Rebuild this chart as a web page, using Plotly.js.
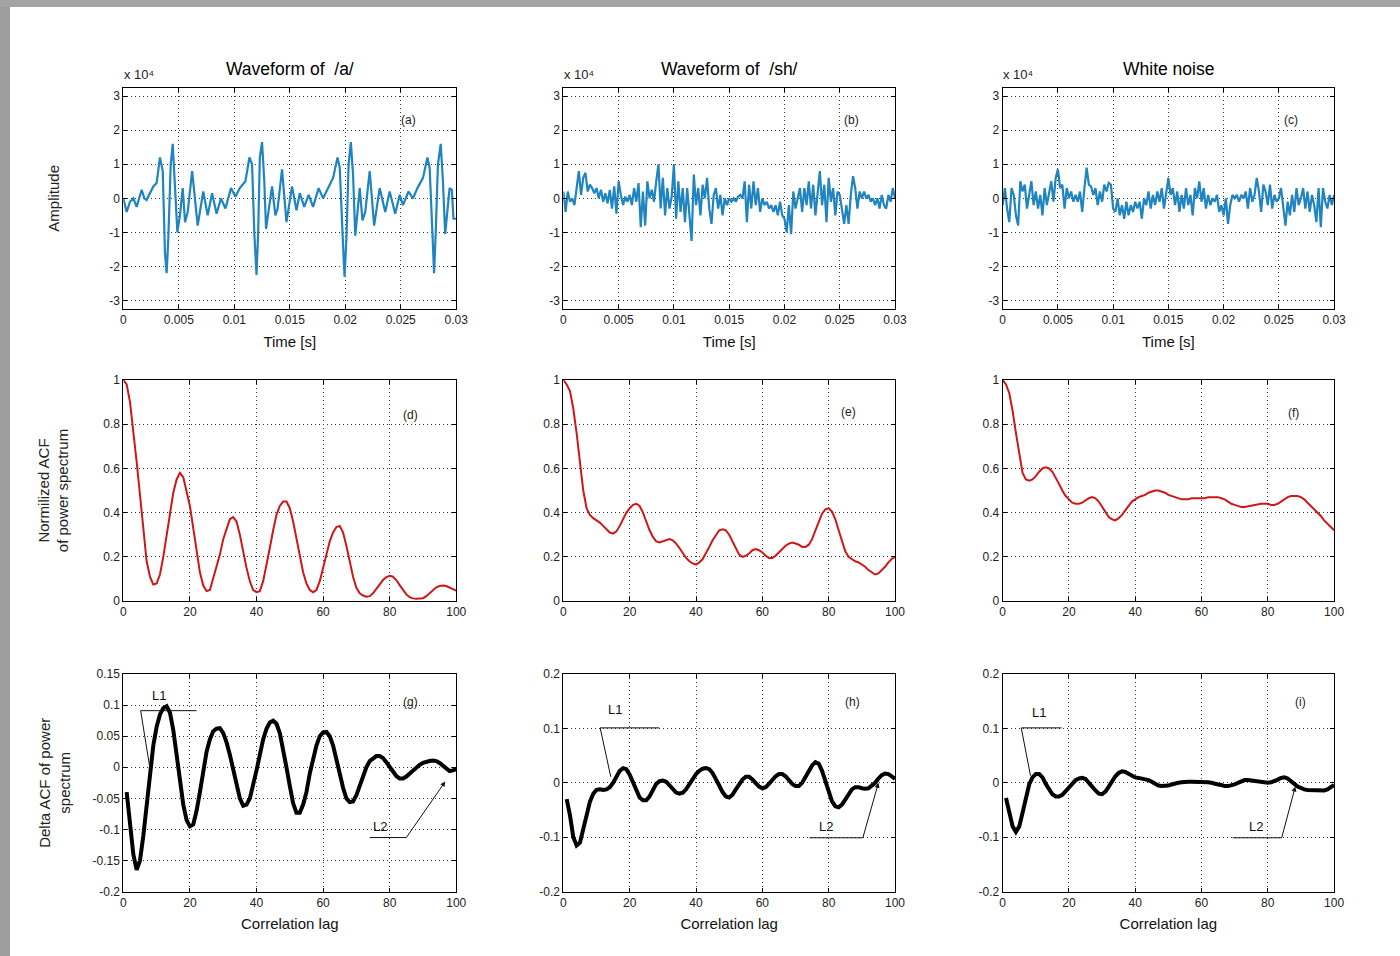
<!DOCTYPE html>
<html><head><meta charset="utf-8">
<script src="https://cdn.plot.ly/plotly-3.0.1.min.js"></script>
<style>html,body{margin:0;padding:0;background:#fff;}#chart{width:1400px;height:956px;}</style>
</head><body><div id="chart"></div>
<script>
// ---------------- DATA ----------------
// Panel (a): waveform of /a/ (time in ms, amplitude in units of 10^4)
const timeA_ms = [0,0.3,0.6,0.9,1.2,1.65,1.9,2.1,2.7,3.0,3.3,3.55,3.75,3.9,4.05,4.27,4.45,4.65,4.87,5.1,5.35,5.56,5.8,6.2,6.7,7.2,7.6,8.0,8.4,8.8,9.2,9.7,10.1,10.5,11.0,11.36,11.6,11.8,12.0,12.15,12.3,12.5,12.7,12.86,13.1,13.4,13.7,13.9,14.3,14.7,15.2,15.6,15.9,16.3,16.7,17.1,17.6,18.0,18.6,18.9,19.3,19.5,19.75,19.93,20.1,20.3,20.5,20.7,20.9,21.1,21.3,21.55,21.8,22.2,22.6,23.1,23.6,24.0,24.5,24.9,25.2,25.7,26.1,26.5,27.0,27.4,27.6,27.85,28.0,28.15,28.35,28.6,28.8,29.0,29.2,29.4,29.6,29.75,30.0];
const ampA_e4 = [0.0,-0.4,-0.1,0.0,-0.25,0.25,0.0,-0.05,0.35,0.45,1.2,0.8,-1.6,-2.2,-1.2,1.0,1.6,0.4,-1.0,-0.5,0.3,-0.7,-0.4,0.8,-0.8,0.2,-0.5,0.15,-0.45,0.0,-0.3,0.3,0.05,0.3,0.5,1.2,1.0,-1.0,-2.25,-1.0,1.2,1.65,0.5,-0.9,-0.3,0.35,-0.5,-0.3,0.85,-0.7,0.35,-0.35,0.15,-0.25,0.1,-0.25,0.3,0.0,0.4,0.6,1.2,0.9,-1.0,-2.3,-1.2,1.0,1.65,0.7,-1.1,-0.3,0.3,-0.65,-0.4,0.8,-0.8,0.3,-0.4,0.2,-0.45,0.1,-0.2,0.2,0.0,0.3,0.6,1.2,0.9,-1.0,-2.2,-1.0,1.0,1.6,0.5,-1.05,-0.3,0.3,0.25,-0.6,-0.6];

// Panels (b) and (c): sampled every 0.2 ms from 0 to 30 ms (units of 10^4)
const sampleStep_ms = 0.2;
const ampSh_e4 = [0.2,-0.4,0.2,-0.1,0.0,-0.2,0.3,0.8,0.1,0.6,
0.75,0.2,0.4,0.3,0.15,0.3,0.0,0.25,-0.1,0.15,
-0.15,0.25,-0.3,0.35,-0.45,0.5,0.1,-0.2,0.05,-0.1,
0.1,-0.2,0.3,-0.1,0.45,-0.85,0.2,-0.8,0.5,0.0,
0.25,-0.1,0.5,1.0,-0.3,0.6,-0.5,0.3,-0.3,0.05,
1.0,-0.6,0.5,-0.4,0.3,-0.7,0.3,-0.5,-1.25,0.7,
-0.2,0.3,-0.5,0.4,0.0,0.6,-0.3,-0.75,0.1,0.3,
-0.3,0.1,-0.5,0.0,-0.2,0.0,-0.1,0.0,-0.1,0.05,
0.1,0.0,0.5,-0.7,0.4,-0.3,0.5,-0.2,0.3,-0.4,
0.0,-0.2,-0.1,-0.3,-0.2,-0.4,-0.2,-0.5,-0.1,-0.5,
-0.6,-1.0,-0.2,-1.05,0.2,-0.3,0.0,0.3,-0.4,0.3,
-0.2,0.5,-0.3,0.4,-0.5,0.2,0.8,-0.2,0.4,-0.7,
0.6,-0.1,0.3,-0.5,0.2,0.1,-0.3,-0.75,-0.2,-0.75,
0.1,0.65,0.3,-0.3,0.2,0.0,0.2,0.0,0.1,-0.1,
0.0,-0.2,0.0,-0.3,0.1,-0.2,-0.3,0.1,-0.1,0.3,
0.0];
const ampNoise_e4 = [-0.2,0.3,-0.3,-0.7,0.3,0.1,-0.5,-0.8,0.5,0.2,
0.4,-0.3,0.1,0.5,-0.2,0.2,-0.3,0.1,-0.5,0.3,
-0.2,0.2,0.5,-0.1,0.6,0.85,0.3,0.4,-0.3,0.3,
0.0,0.2,-0.1,0.1,-0.1,0.2,-0.4,0.3,0.9,0.4,
0.35,0.1,0.3,-0.2,0.2,-0.1,0.4,0.2,0.45,0.4,
-0.3,-0.4,0.0,-0.5,-0.2,-0.6,-0.1,-0.5,-0.2,-0.4,
-0.1,-0.3,-0.1,-0.6,0.0,-0.2,0.2,-0.3,0.1,-0.2,
0.2,-0.1,0.3,-0.3,0.2,0.6,0.1,0.3,-0.2,0.2,
-0.4,0.1,-0.3,0.3,-0.2,0.1,-0.5,0.3,0.0,0.5,
-0.1,0.3,-0.3,0.1,-0.2,0.0,-0.1,0.1,-0.4,-0.2,
-0.5,0.0,-0.75,-0.2,0.1,0.0,0.1,-0.1,0.1,0.0,
0.2,-0.3,0.3,-0.1,0.1,0.6,0.2,-0.4,0.4,0.2,
-0.2,0.4,-0.3,0.1,-0.1,0.0,0.3,-0.3,-0.8,-0.1,
-0.5,0.1,-0.4,0.3,-0.2,0.0,0.3,-0.3,0.2,-0.4,
0.1,-0.2,-0.7,0.3,-0.85,0.3,-0.1,-0.3,0.1,-0.2,
0.1];

// Panels (d)-(f): normalized ACF of power spectrum, lags 0..100
const acfA = [1.0,0.98,0.9,0.77,0.63,0.48,0.32,0.18,0.11,0.075,
0.08,0.12,0.2,0.3,0.4,0.49,0.55,0.58,0.56,0.5,
0.43,0.33,0.22,0.13,0.07,0.045,0.05,0.1,0.15,0.21,
0.28,0.33,0.37,0.38,0.36,0.3,0.22,0.15,0.09,0.05,
0.04,0.045,0.09,0.16,0.24,0.32,0.39,0.43,0.45,0.45,
0.42,0.36,0.28,0.2,0.13,0.08,0.05,0.04,0.05,0.09,
0.15,0.21,0.27,0.31,0.335,0.34,0.31,0.25,0.18,0.11,
0.06,0.035,0.025,0.02,0.022,0.035,0.055,0.075,0.095,0.108,
0.114,0.11,0.095,0.072,0.05,0.03,0.018,0.012,0.01,0.01,
0.013,0.022,0.035,0.05,0.062,0.068,0.07,0.068,0.062,0.055,
0.047];
const acfSh = [1.0,0.98,0.95,0.87,0.76,0.62,0.5,0.42,0.39,0.375,
0.365,0.355,0.34,0.325,0.31,0.305,0.315,0.34,0.37,0.4,
0.42,0.435,0.44,0.43,0.4,0.36,0.32,0.29,0.27,0.265,
0.27,0.275,0.28,0.275,0.26,0.24,0.215,0.195,0.18,0.17,
0.165,0.175,0.19,0.215,0.245,0.275,0.3,0.32,0.325,0.32,
0.3,0.27,0.235,0.21,0.2,0.205,0.215,0.23,0.235,0.23,
0.22,0.205,0.195,0.195,0.205,0.22,0.235,0.25,0.26,0.265,
0.26,0.255,0.245,0.245,0.255,0.28,0.32,0.36,0.395,0.415,
0.42,0.405,0.37,0.32,0.27,0.225,0.2,0.19,0.18,0.175,
0.165,0.155,0.14,0.13,0.12,0.125,0.14,0.155,0.175,0.19,
0.2];
const acfNoise = [1.0,0.98,0.94,0.86,0.76,0.66,0.58,0.55,0.545,0.55,
0.565,0.585,0.6,0.605,0.6,0.585,0.56,0.53,0.5,0.475,
0.46,0.445,0.44,0.44,0.445,0.455,0.465,0.47,0.465,0.45,
0.425,0.4,0.38,0.37,0.365,0.375,0.39,0.41,0.43,0.45,
0.46,0.47,0.475,0.48,0.49,0.495,0.5,0.5,0.495,0.49,
0.48,0.475,0.47,0.465,0.46,0.46,0.46,0.465,0.465,0.465,
0.465,0.465,0.47,0.47,0.47,0.47,0.465,0.46,0.45,0.44,
0.435,0.43,0.425,0.425,0.428,0.43,0.435,0.435,0.44,0.44,
0.44,0.435,0.435,0.44,0.45,0.46,0.47,0.475,0.475,0.475,
0.47,0.46,0.445,0.43,0.415,0.4,0.385,0.365,0.35,0.335,
0.32];

// Panels (g)-(i): delta ACF of power spectrum, lags 1..100
const dAcfA = [-0.04,-0.09,-0.14,-0.165,-0.15,-0.11,-0.06,-0.01,0.035,0.065,
0.085,0.095,0.098,0.088,0.06,0.02,-0.025,-0.06,-0.085,-0.095,
-0.092,-0.07,-0.04,-0.005,0.025,0.045,0.058,0.062,0.063,0.055,
0.04,0.02,-0.005,-0.03,-0.05,-0.062,-0.06,-0.05,-0.03,-0.005,
0.02,0.045,0.062,0.072,0.075,0.07,0.055,0.03,0.0,-0.03,
-0.058,-0.073,-0.073,-0.06,-0.04,-0.01,0.015,0.035,0.05,0.056,
0.057,0.05,0.035,0.015,-0.01,-0.033,-0.05,-0.056,-0.055,-0.045,
-0.03,-0.015,0.0,0.01,0.015,0.018,0.018,0.015,0.008,0.0,
-0.008,-0.014,-0.018,-0.018,-0.015,-0.01,-0.005,0.0,0.004,0.007,
0.009,0.01,0.011,0.01,0.007,0.002,-0.003,-0.006,-0.005,-0.003];
const dAcfSh = [-0.03,-0.06,-0.1,-0.115,-0.11,-0.085,-0.055,-0.035,-0.02,-0.013,
-0.012,-0.013,-0.012,-0.008,0.0,0.012,0.022,0.027,0.025,0.015,
0.0,-0.015,-0.027,-0.032,-0.032,-0.025,-0.012,-0.002,0.003,0.004,
0.002,-0.004,-0.012,-0.018,-0.02,-0.018,-0.012,-0.003,0.008,0.016,
0.022,0.026,0.027,0.025,0.018,0.008,-0.005,-0.017,-0.025,-0.027,
-0.022,-0.012,-0.002,0.006,0.011,0.011,0.006,-0.001,-0.007,-0.01,
-0.008,-0.002,0.006,0.012,0.016,0.016,0.012,0.005,-0.002,-0.006,
-0.006,0.0,0.01,0.022,0.032,0.038,0.035,0.022,0.002,-0.018,
-0.034,-0.043,-0.045,-0.04,-0.03,-0.02,-0.012,-0.008,-0.008,-0.01,
-0.011,-0.01,-0.006,0.0,0.008,0.014,0.017,0.016,0.012,0.007];
const dAcfNoise = [-0.028,-0.055,-0.08,-0.09,-0.08,-0.055,-0.025,-0.003,0.01,0.016,
0.016,0.01,-0.002,-0.013,-0.021,-0.025,-0.025,-0.022,-0.015,-0.007,
0.0,0.005,0.008,0.009,0.007,0.001,-0.007,-0.014,-0.02,-0.021,
-0.016,-0.007,0.003,0.012,0.018,0.021,0.02,0.016,0.012,0.01,
0.009,0.008,0.007,0.005,0.002,-0.002,-0.005,-0.006,-0.006,-0.005,
-0.003,-0.001,0.0,0.001,0.002,0.002,0.002,0.002,0.002,0.002,
0.002,0.001,0.0,-0.002,-0.003,-0.004,-0.006,-0.006,-0.005,-0.003,
0.0,0.003,0.005,0.005,0.004,0.003,0.002,0.001,0.0,0.0,
0.001,0.003,0.006,0.009,0.01,0.008,0.004,-0.002,-0.007,-0.01,
-0.012,-0.013,-0.013,-0.013,-0.013,-0.014,-0.014,-0.012,-0.008,-0.004];

// Text
const panelTitles = ['Waveform of  /a/', 'Waveform of  /sh/', 'White noise'];
const panelLetters = ['(a)','(b)','(c)','(d)','(e)','(f)','(g)','(h)','(i)'];
const rowYTitles = ['Amplitude', 'Normilized ACF<br>of power spectrum', 'Delta ACF of power<br>spectrum'];
const exponentLabel = 'x 10\u2074';

// Ticks
const timeTicks = [0,0.005,0.01,0.015,0.02,0.025,0.03];
const ampTicks = [-3,-2,-1,0,1,2,3];
const lagTicks = [0,20,40,60,80,100];
const acfTicks = [0,0.2,0.4,0.6,0.8,1];
const dTicksA = [-0.2,-0.15,-0.1,-0.05,0,0.05,0.1,0.15];
const dTicksOther = [-0.2,-0.1,0,0.1,0.2];

// ---------------- BUILD ----------------
const FONT = 'Liberation Sans, Arial, Helvetica, DejaVu Sans, sans-serif';
const BLUE = '#1f84c0', RED = '#cc1818', BLACK = '#000';
const toSec = a => a.map(v => v / 1000);
const sampleTimes = n => Array.from({length: n}, (_, i) => +(i * sampleStep_ms / 1000).toFixed(5));
const lags0 = Array.from({length: acfA.length}, (_, i) => i);
const lags1 = Array.from({length: dAcfA.length}, (_, i) => i + 1);

const series = [
  {x: toSec(timeA_ms), y: ampA_e4, c: BLUE, w: 2.2},
  {x: sampleTimes(ampSh_e4.length), y: ampSh_e4, c: BLUE, w: 2.2},
  {x: sampleTimes(ampNoise_e4.length), y: ampNoise_e4, c: BLUE, w: 2.2},
  {x: lags0, y: acfA, c: RED, w: 2},
  {x: lags0, y: acfSh, c: RED, w: 2},
  {x: lags0, y: acfNoise, c: RED, w: 2},
  {x: lags1, y: dAcfA, c: BLACK, w: 4},
  {x: lags1, y: dAcfSh, c: BLACK, w: 4},
  {x: lags1, y: dAcfNoise, c: BLACK, w: 4}
];

const colX = [[0.0881,0.3259],[0.4024,0.6393],[0.7162,0.9529]];
const rowY = [[0.6768,0.9083],[0.3713,0.6025],[0.0673,0.2950]];
const yTitleStandoff = [46, 30, 18];

const traces = series.map((s, i) => ({
  x: s.x, y: s.y, type: 'scatter', mode: 'lines',
  line: {color: s.c, width: s.w}, xaxis: 'x' + (i + 1), yaxis: 'y' + (i + 1),
  hoverinfo: 'skip', showlegend: false
}));

const baseAxis = {
  showline: true, linecolor: '#000', linewidth: 1, mirror: 'ticks',
  ticks: 'inside', ticklen: 4, tickcolor: '#000', tickwidth: 1,
  showgrid: true, gridcolor: '#333', griddash: '1px,3px', gridwidth: 1,
  zeroline: false, tickmode: 'array',
  tickfont: {family: FONT, size: 12, color: '#222'}, fixedrange: true
};
const tk = v => ({tickvals: v, ticktext: v.map(String)});

const layout = {
  width: 1400, height: 956, margin: {l: 0, r: 0, t: 0, b: 0},
  paper_bgcolor: '#fff', plot_bgcolor: '#fff', showlegend: false,
  font: {family: FONT, color: '#111'},
  annotations: [], shapes: []
};

for (let i = 0; i < 9; i++) {
  const r = Math.floor(i / 3), c = i % 3, k = i + 1;
  const xa = Object.assign({}, baseAxis, {domain: colX[c], anchor: 'y' + k});
  const ya = Object.assign({}, baseAxis, {domain: rowY[r], anchor: 'x' + k});
  if (r === 0) {
    Object.assign(xa, {range: [0, 0.03]}, tk(timeTicks));
    Object.assign(ya, {range: [-3.25, 3.25]}, tk(ampTicks));
    xa.title = {text: 'Time [s]', font: {size: 15, family: FONT, color: '#111'}, standoff: 10};
  } else if (r === 1) {
    Object.assign(xa, {range: [0, 100]}, tk(lagTicks));
    Object.assign(ya, {range: [0, 1]}, tk(acfTicks));
  } else {
    Object.assign(xa, {range: [0, 100]}, tk(lagTicks));
    if (c === 0) Object.assign(ya, {range: [-0.2, 0.15]}, tk(dTicksA));
    else Object.assign(ya, {range: [-0.2, 0.2]}, tk(dTicksOther));
    xa.title = {text: 'Correlation lag', font: {size: 15, family: FONT, color: '#111'}, standoff: 9};
  }
  if (c === 0) {
    ya.title = {text: rowYTitles[r], font: {size: 15, family: FONT, color: '#222'}, standoff: yTitleStandoff[r]};
  }
  layout['xaxis' + (k === 1 ? '' : k)] = xa;
  layout['yaxis' + (k === 1 ? '' : k)] = ya;
}

// panel titles, exponent labels
const letterPos = [[0.858,0.854],[0.87,0.854],[0.87,0.854],[0.864,0.84],[0.861,0.855],[0.879,0.85],[0.864,0.87],[0.873,0.87],[0.90,0.87]];
for (let c = 0; c < 3; c++) {
  const k = c + 1;
  layout.annotations.push({text: panelTitles[c], xref: 'x' + k + ' domain', yref: 'y' + k + ' domain',
    x: 0.5, y: 1.085, xanchor: 'center', yanchor: 'middle', showarrow: false,
    font: {family: FONT, size: 17.5, color: '#000'}});
  layout.annotations.push({text: exponentLabel, xref: 'x' + k + ' domain', yref: 'y' + k + ' domain',
    x: -0.005, y: 1.06, xanchor: 'left', yanchor: 'middle', showarrow: false,
    font: {family: FONT, size: 13, color: '#222'}});
}
for (let i = 0; i < 9; i++) {
  const k = i + 1;
  layout.annotations.push({text: panelLetters[i], xref: 'x' + k + ' domain', yref: 'y' + k + ' domain',
    x: letterPos[i][0], y: letterPos[i][1], xanchor: 'center', yanchor: 'middle', showarrow: false,
    font: {family: FONT, size: 12, color: '#222'}});
}

// L1 / L2 callouts (data coordinates of each delta-ACF panel)
// l2Pad: non-breaking spaces that widen the L2 label box so its right edge meets the bar end
const callouts = [
  {k: 7, l1Text: [10.8, 0.116], l1Bar: [5.2, 22, 0.091], l1Tip: [8.3, -0.012],
         l2Bar: [74, 85, -0.113], l2Tip: [96.7, -0.023], l2Pad: 4},
  {k: 8, l1Text: [15.6, 0.134], l1Bar: [11.1, 28.9, 0.101], l1Tip: [14.3, 0.011],
         l2Bar: [74.2, 90.3, -0.101], l2Tip: [95, 0.0], l2Pad: 7},
  {k: 9, l1Text: [10.9, 0.13], l1Bar: [5.6, 17.8, 0.101], l1Tip: [8.4, 0.013],
         l2Bar: [69.4, 84.2, -0.101], l2Tip: [88.3, -0.007], l2Pad: 4}
];
callouts.forEach(o => {
  const xr = 'x' + o.k, yr = 'y' + o.k;
  const lineStyle = {color: '#111', width: 1};
  layout.annotations.push({text: 'L1', xref: xr, yref: yr, x: o.l1Text[0], y: o.l1Text[1], showarrow: false,
    font: {family: FONT, size: 13, color: '#111'}});
  layout.shapes.push({type: 'line', xref: xr, yref: yr, x0: o.l1Bar[0], x1: o.l1Bar[1], y0: o.l1Bar[2], y1: o.l1Bar[2], line: lineStyle});
  layout.shapes.push({type: 'line', xref: xr, yref: yr, x0: o.l1Bar[0], x1: o.l1Tip[0], y0: o.l1Bar[2], y1: o.l1Tip[1], line: lineStyle});
  layout.shapes.push({type: 'line', xref: xr, yref: yr, x0: o.l2Bar[0], x1: o.l2Bar[1], y0: o.l2Bar[2], y1: o.l2Bar[2], line: lineStyle});
  layout.annotations.push({text: 'L2' + '\u00a0'.repeat(o.l2Pad), xref: xr, yref: yr, axref: xr, ayref: yr,
    x: o.l2Tip[0], y: o.l2Tip[1], ax: o.l2Bar[1], ay: o.l2Bar[2],
    xanchor: 'right', yanchor: 'bottom', borderpad: 3, align: 'left',
    font: {family: FONT, size: 13, color: '#111'},
    showarrow: true, arrowhead: 2, arrowsize: 1, arrowwidth: 1, arrowcolor: '#111', standoff: 0});
});

// grey window frame (top and left edges)
layout.shapes.push({type: 'rect', xref: 'paper', yref: 'paper', x0: 0, x1: 10/1400, y0: 0, y1: 1,
  fillcolor: '#9e9e9e', line: {width: 0}, layer: 'below'});
layout.shapes.push({type: 'rect', xref: 'paper', yref: 'paper', x0: 0, x1: 1, y0: 1 - 7/956, y1: 1,
  fillcolor: '#a4a4a4', line: {width: 0}, layer: 'below'});

Plotly.newPlot('chart', traces, layout, {displayModeBar: false, staticPlot: true});
</script>
</body></html>
